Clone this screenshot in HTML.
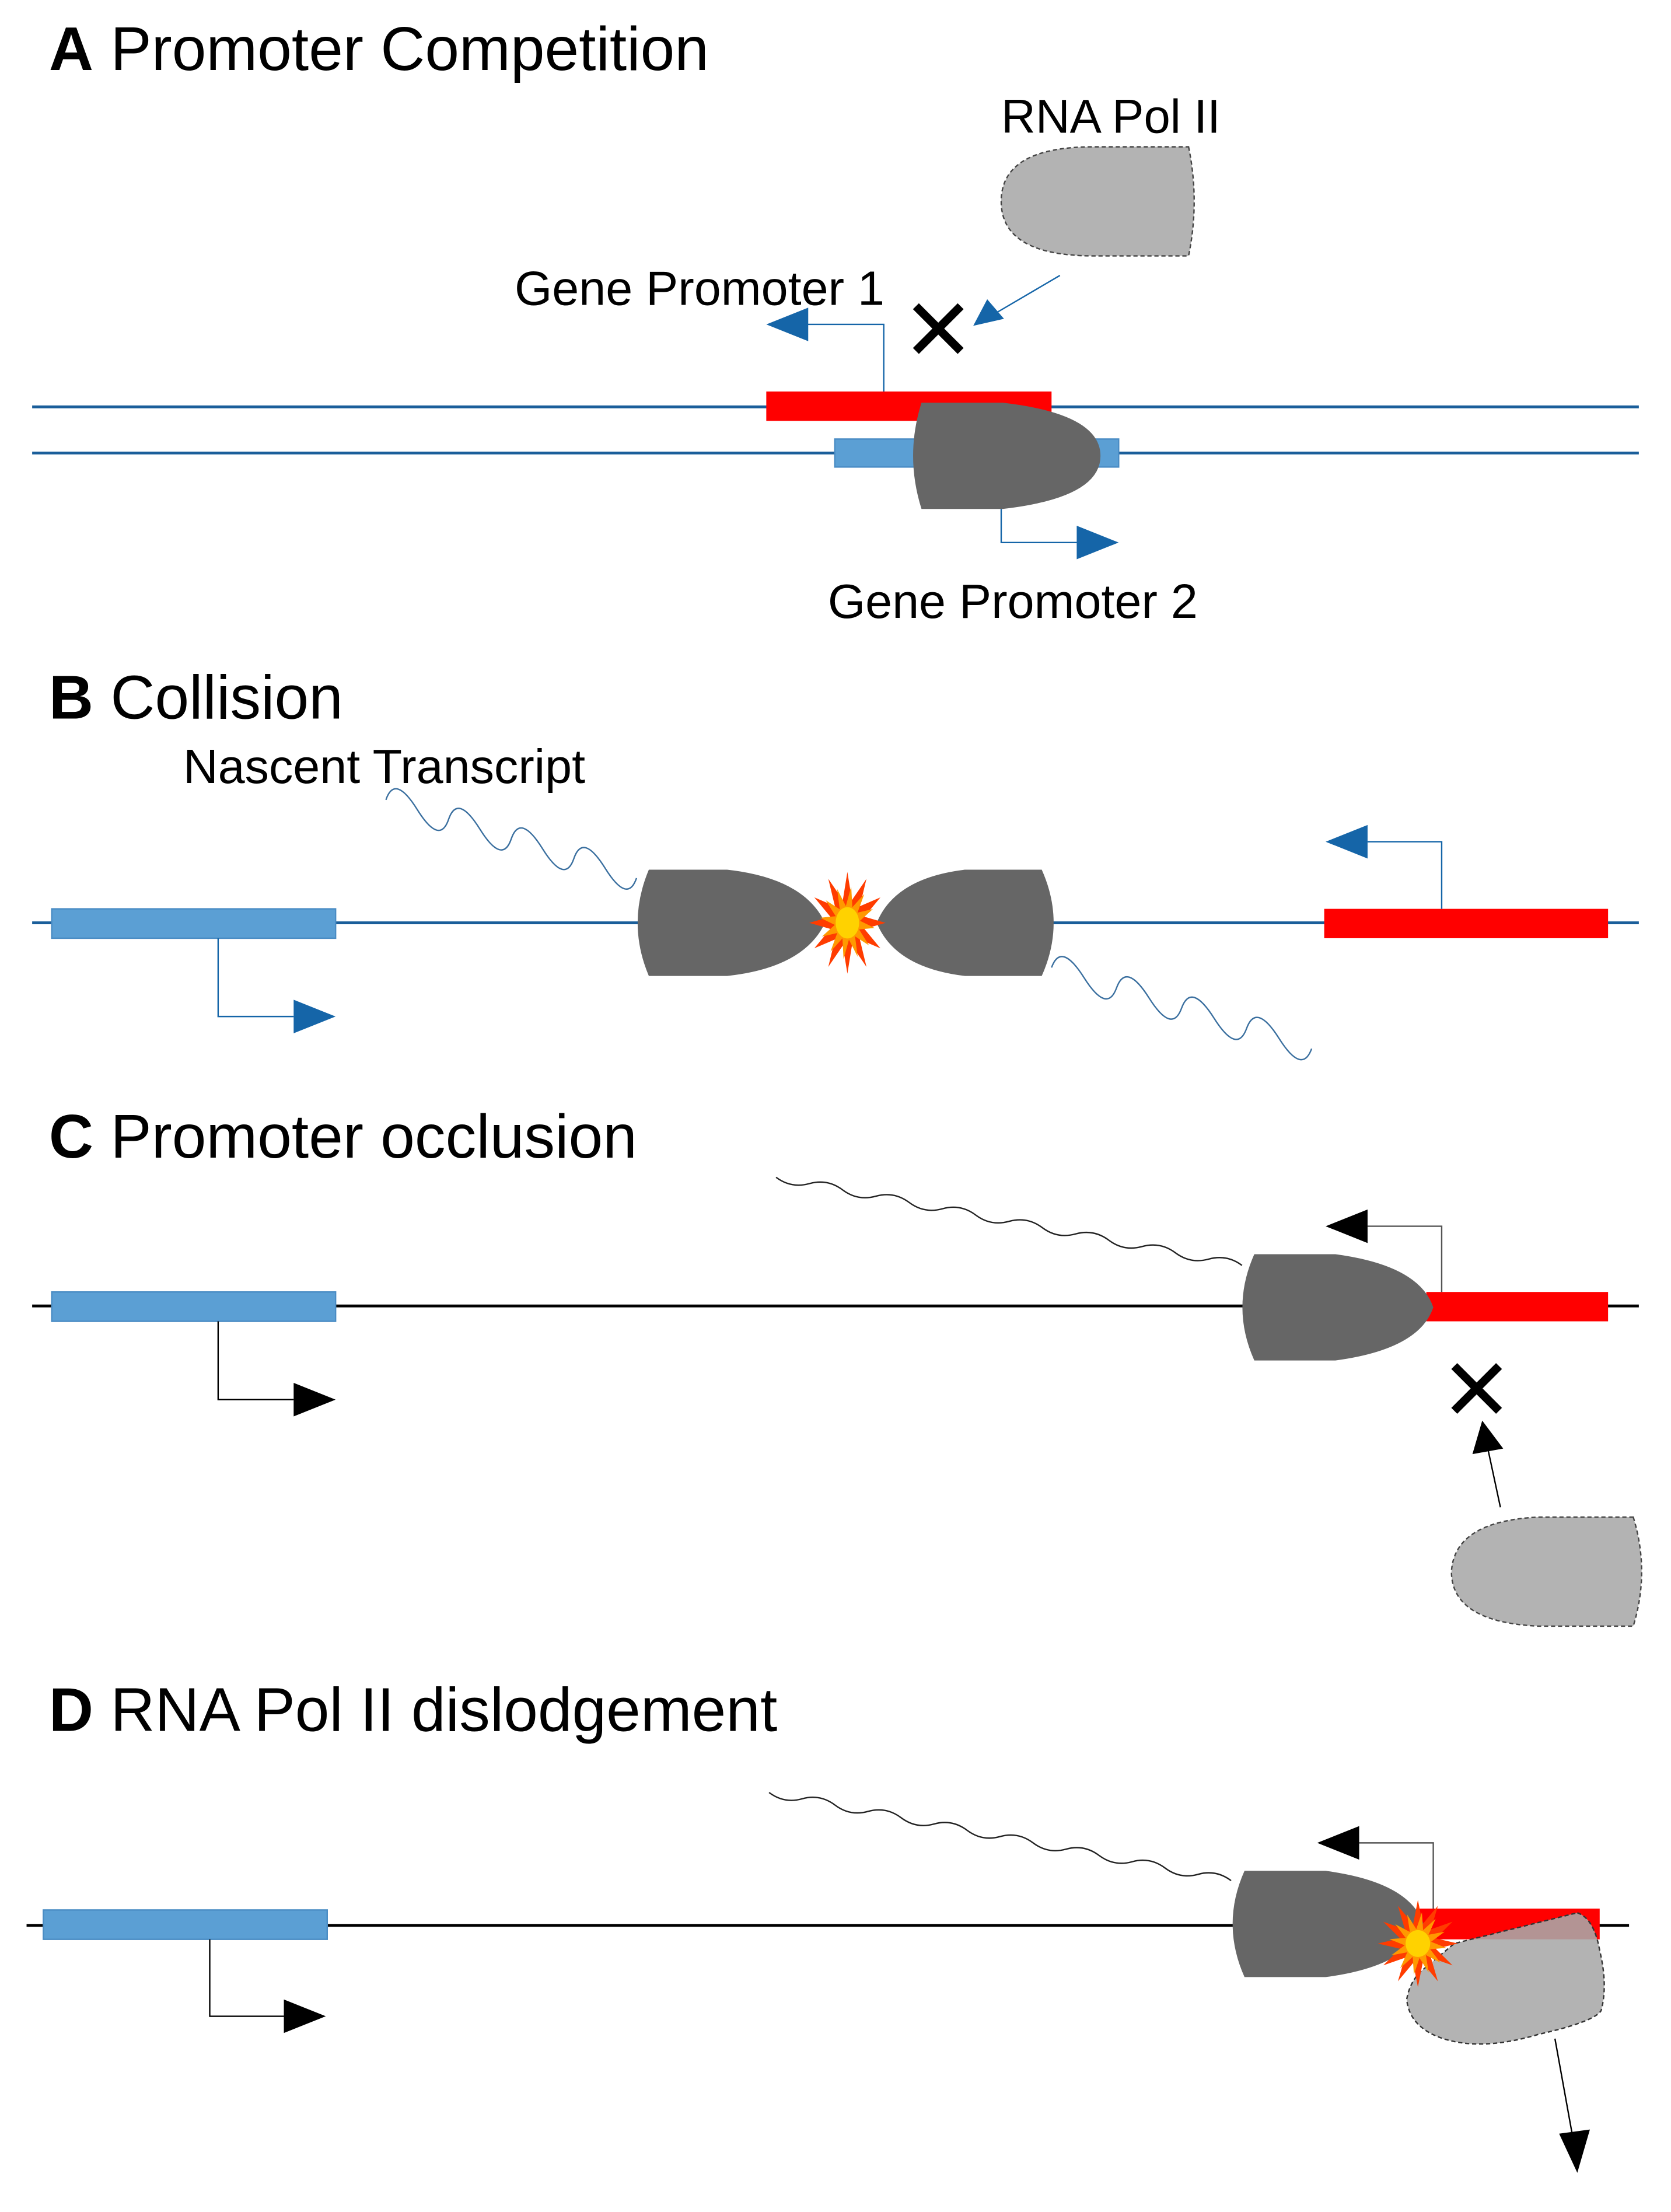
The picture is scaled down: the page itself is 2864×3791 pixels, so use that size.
<!DOCTYPE html>
<html><head><meta charset="utf-8"><style>
html,body{margin:0;padding:0;background:#fff}
svg{display:block}
text{font-family:"Liberation Sans",sans-serif;fill:#000}
</style></head><body>
<svg width="2864" height="3791" viewBox="0 0 1195 1582" preserveAspectRatio="none" xmlns="http://www.w3.org/2000/svg">
<defs>
<g id="star">
<polygon fill="#ff3c00" points="26,0 11.6,3.1 22.5,13 8.5,8.5 13,22.5 3.1,11.6 0,26 -3.1,11.6 -13,22.5 -8.5,8.5 -22.5,13 -11.6,3.1 -26,0 -11.6,-3.1 -22.5,-13 -8.5,-8.5 -13,-22.5 -3.1,-11.6 0,-26 3.1,-11.6 13,-22.5 8.5,-8.5 22.5,-13 11.6,-3.1"/>
<polygon fill="#ff9900" transform="scale(0.72) rotate(8)" points="26,0 11.6,3.1 22.5,13 8.5,8.5 13,22.5 3.1,11.6 0,26 -3.1,11.6 -13,22.5 -8.5,8.5 -22.5,13 -11.6,3.1 -26,0 -11.6,-3.1 -22.5,-13 -8.5,-8.5 -13,-22.5 -3.1,-11.6 0,-26 3.1,-11.6 13,-22.5 8.5,-8.5 22.5,-13 11.6,-3.1"/>
<circle r="8" fill="#ffd200"/>
</g>
</defs>

<!-- A -->
<text x="35" y="50" font-size="44"><tspan font-weight="bold">A</tspan> Promoter Competition</text>
<text x="716" y="95" font-size="34">RNA Pol II</text>
<path d="M850 105 Q858 144 850 183 H782 Q716 183 716 144 Q716 105 782 105 Z" fill="#b3b3b3" stroke="#444" stroke-width="1" stroke-dasharray="3,2"/>
<line x1="758" y1="197" x2="712" y2="224" stroke="#1565a8" stroke-width="1"/>
<polygon points="696,233 706,214 718,228" fill="#1565a8"/>
<text x="368" y="218" font-size="34.5">Gene Promoter 1</text>
<path d="M655 219 L687 251 M687 219 L655 251" stroke="#000" stroke-width="6"/>
<polyline points="632,281 632,232 576,232" fill="none" stroke="#1565a8" stroke-width="1"/>
<polygon points="548,232 578,220 578,244" fill="#1565a8"/>
<line x1="23" y1="291" x2="1172" y2="291" stroke="#1a5e9a" stroke-width="2"/>
<line x1="23" y1="324" x2="1172" y2="324" stroke="#1a5e9a" stroke-width="2"/>
<rect x="548" y="280" width="204" height="21" fill="#ff0000"/>
<rect x="597" y="314" width="203" height="20" fill="#5b9fd4" stroke="#4a8cc4" stroke-width="1"/>
<path d="M659 288 H717 Q787 296 787 326 Q787 356 717 364 H659 Q647 326 659 288 Z" fill="#666"/>
<polyline points="716,364 716,388 770,388" fill="none" stroke="#1565a8" stroke-width="1"/>
<polygon points="800,388 770,376 770,400" fill="#1565a8"/>
<text x="592" y="442" font-size="34.5">Gene Promoter 2</text>

<!-- B -->
<text x="35" y="514" font-size="44"><tspan font-weight="bold">B</tspan> Collision</text>
<text x="131" y="560" font-size="34.5">Nascent Transcript</text>
<path d="M276 572 q6.4 -18.7 22.4 7 t22.4 7 t22.4 7 t22.4 7 t22.4 7 t22.4 7 t22.4 7 t22.4 7" fill="none" stroke="#3a6f9f" stroke-width="1"/>
<path d="M752 692 q6.8 -18.8 23.25 7.25 t23.25 7.25 t23.25 7.25 t23.25 7.25 t23.25 7.25 t23.25 7.25 t23.25 7.25 t23.25 7.25" fill="none" stroke="#3a6f9f" stroke-width="1"/>
<line x1="23" y1="660" x2="1172" y2="660" stroke="#1a5e9a" stroke-width="2"/>
<rect x="37" y="650" width="203" height="21" fill="#5b9fd4" stroke="#4a8cc4" stroke-width="1"/>
<polyline points="156,671 156,727 210,727" fill="none" stroke="#1565a8" stroke-width="1"/>
<polygon points="240,727 210,715 210,739" fill="#1565a8"/>
<rect x="947" y="650" width="203" height="21" fill="#ff0000"/>
<polyline points="1031,650 1031,602 978,602" fill="none" stroke="#1565a8" stroke-width="1"/>
<polygon points="948,602 978,590 978,614" fill="#1565a8"/>
<path d="M464 622 H520 Q575 628 590 660 Q575 692 520 698 H464 Q448 660 464 622 Z" fill="#666"/>
<path d="M745 622 H690 Q640 628 627 660 Q640 692 690 698 H745 Q762 660 745 622 Z" fill="#666"/>
<use href="#star" transform="translate(606,660) scale(1.05,1.4)"/>

<!-- C -->
<text x="35" y="828" font-size="44"><tspan font-weight="bold">C</tspan> Promoter occlusion</text>
<path d="M555 842 q10.8 8.1 23.8 4.5 t23.8 4.5 t23.8 4.5 t23.8 4.5 t23.8 4.5 t23.8 4.5 t23.8 4.5 t23.8 4.5 t23.8 4.5 t23.8 4.5 t23.8 4.5 t23.8 4.5 t23.8 4.5 t23.8 4.5" fill="none" stroke="#222" stroke-width="1"/>
<line x1="23" y1="934" x2="1172" y2="934" stroke="#000" stroke-width="2"/>
<rect x="37" y="924" width="203" height="21" fill="#5b9fd4" stroke="#4a8cc4" stroke-width="1"/>
<polyline points="156,945 156,1001 210,1001" fill="none" stroke="#000" stroke-width="1"/>
<polygon points="240,1001 210,989 210,1013" fill="#000"/>
<rect x="1020" y="924" width="130" height="21" fill="#ff0000"/>
<polyline points="1031,924 1031,877 978,877" fill="none" stroke="#555" stroke-width="1"/>
<polygon points="948,877 978,865 978,889" fill="#000"/>
<path d="M897 897 H955 Q1015 905 1025 935 Q1015 965 955 973 H897 Q880 935 897 897 Z" fill="#666"/>
<path d="M1040 977 L1072 1009 M1072 977 L1040 1009" stroke="#000" stroke-width="6"/>
<line x1="1073" y1="1078" x2="1064" y2="1036" stroke="#000" stroke-width="1"/>
<polygon points="1060,1016 1053,1040 1075,1036" fill="#000"/>
<path d="M1168 1085 Q1180 1124 1168 1163 H1100 Q1038 1160 1038 1124 Q1040 1088 1100 1085 Z" fill="#b3b3b3" stroke="#444" stroke-width="1" stroke-dasharray="3,2"/>

<!-- D -->
<text x="35" y="1238" font-size="44"><tspan font-weight="bold">D</tspan> RNA Pol II dislodgement</text>
<path d="M550 1282 q10.8 8.1 23.6 4.5 t23.6 4.5 t23.6 4.5 t23.6 4.5 t23.6 4.5 t23.6 4.5 t23.6 4.5 t23.6 4.5 t23.6 4.5 t23.6 4.5 t23.6 4.5 t23.6 4.5 t23.6 4.5 t23.6 4.5" fill="none" stroke="#222" stroke-width="1"/>
<line x1="19" y1="1377" x2="1165" y2="1377" stroke="#000" stroke-width="2"/>
<rect x="31" y="1366" width="203" height="21" fill="#5b9fd4" stroke="#4a8cc4" stroke-width="1"/>
<polyline points="150,1387 150,1442 203,1442" fill="none" stroke="#000" stroke-width="1"/>
<polygon points="233,1442 203,1430 203,1454" fill="#000"/>
<rect x="1015" y="1365" width="129" height="22" fill="#ff0000"/>
<polyline points="1025,1365 1025,1318 972,1318" fill="none" stroke="#555" stroke-width="1"/>
<polygon points="942,1318 972,1306 972,1330" fill="#000"/>
<path d="M890 1338 H948 Q1008 1346 1018 1376 Q1008 1406 948 1414 H890 Q873 1376 890 1338 Z" fill="#666"/>
<path d="M1128 1368 Q1140 1372 1144 1395 Q1150 1420 1145 1438 Q1140 1446 1100 1455 Q1060 1467 1032 1458 Q1008 1450 1006 1430 Q1008 1418 1016 1410 L1040 1390 Z" fill="#a8a8a8" fill-opacity="0.88" stroke="#333" stroke-width="1" stroke-dasharray="3,2"/>
<use href="#star" transform="translate(1014,1390) scale(1.1,1.2)"/>
<line x1="1112" y1="1458" x2="1125" y2="1530" stroke="#000" stroke-width="1"/>
<polygon points="1128,1554 1115,1526 1137,1523" fill="#000"/>
</svg>
</body></html>
